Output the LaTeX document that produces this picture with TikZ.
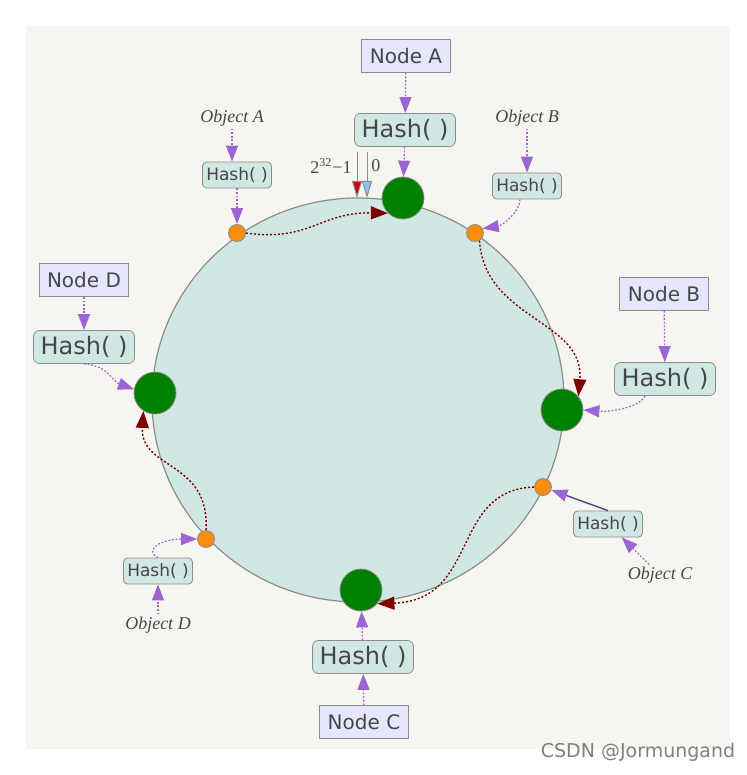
\documentclass[tikz,border=0pt]{standalone}
\usepackage{fontspec}
\usepackage{tikz}
\usetikzlibrary{arrows.meta,calc}
\newfontfamily\ringsans{DejaVu Sans}
\newfontfamily\ringserif{Liberation Serif}
\definecolor{paper}{HTML}{F6F5F0}
\definecolor{ringfill}{HTML}{D0E7E4}
\definecolor{edgegray}{HTML}{8C8C8C}
\definecolor{boxfill}{HTML}{E6E6FF}
\definecolor{inkgray}{HTML}{474747}
\definecolor{hashpurple}{HTML}{9B65D6}
\definecolor{darkpurple}{HTML}{5A3D8A}
\definecolor{walkred}{HTML}{7F0000}
\definecolor{servergreen}{HTML}{008000}
\definecolor{objorange}{HTML}{FB8C0C}
\definecolor{wrapred}{HTML}{C80A0A}
\definecolor{zeroblue}{HTML}{86C3F2}
\tikzset{
	nodebox/.style={draw=edgegray,fill=boxfill,text=inkgray,font=\ringsans\fontsize{10}{12}\selectfont,minimum width=44.5pt,minimum height=16.5pt,inner sep=0pt},
	hashbig/.style={draw=edgegray,fill=ringfill,rounded corners=3pt,text=inkgray,font=\ringsans\fontsize{12}{14}\selectfont,minimum width=50.5pt,minimum height=16.5pt,inner sep=0pt},
	hashsmall/.style={draw=edgegray,fill=ringfill,rounded corners=2pt,text=inkgray,font=\ringsans\fontsize{8.5}{10}\selectfont,minimum width=34.5pt,minimum height=13pt,inner sep=0pt},
	server/.style={circle,draw=edgegray,fill=servergreen,minimum size=21pt,inner sep=0pt},
	object/.style={circle,draw=edgegray,fill=objorange,minimum size=8.5pt,inner sep=0pt},
	objname/.style={text=inkgray,font=\ringserif\itshape\fontsize{9}{11}\selectfont,inner sep=1pt},
	ringnum/.style={text=inkgray,font=\ringserif\fontsize{9}{11}\selectfont,inner sep=1pt},
	hashto/.style={hashpurple,line width=0.6pt,dash pattern=on 0.9pt off 0.9pt,-{Triangle[length=8pt,width=6pt]}},
	hashsolid/.style={darkpurple,line width=0.7pt,-{Triangle[length=8pt,width=6pt,color=hashpurple]}},
	walk/.style={walkred,line width=0.7pt,dash pattern=on 1pt off 1pt,-{Triangle[length=8.5pt,width=6.5pt]}},
	cut/.style={edgegray,line width=0.5pt}
}
\begin{document}
\begin{tikzpicture}[x=0.5pt,y=-0.5pt]
	\useasboundingbox (0,0) rectangle (746,775);
	\fill [paper] (26,26) rectangle (730,749);
	\draw [edgegray,line width=0.6pt,fill=ringfill] (358,400) ellipse [x radius=206,y radius=202];
	\node [server] (gA) at (403,198) {};
	\node [server] (gB) at (562,410) {};
	\node [server] (gC) at (361,590) {};
	\node [server] (gD) at (155,393) {};
	\node [object] (oA) at (237,233) {};
	\node [object] (oB) at (475,233) {};
	\node [object] (oC) at (543,487) {};
	\node [object] (oD) at (206,539) {};
	\node [nodebox] (nA) at (406,56) {Node A};
	\node [hashbig] (hA) at (405,130) {Hash( )};
	\node [nodebox] (nB) at (664,294) {Node B};
	\node [hashbig] (hB) at (665,379) {Hash( )};
	\node [nodebox] (nC) at (364,722) {Node C};
	\node [hashbig] (hC) at (363,657) {Hash( )};
	\node [nodebox] (nD) at (84,280) {Node D};
	\node [hashbig] (hD) at (84,347) {Hash( )};
	\node [objname] (tA) at (232,118) {Object A};
	\node [hashsmall] (hoA) at (237,175) {Hash( )};
	\node [objname] (tB) at (527,118) {Object B};
	\node [hashsmall] (hoB) at (527,186) {Hash( )};
	\node [objname] (tC) at (660,575) {Object C};
	\node [hashsmall] (hoC) at (608,524) {Hash( )};
	\node [objname] (tD) at (158,625) {Object D};
	\node [hashsmall] (hoD) at (158,571) {Hash( )};
	\coordinate (maxtop) at (357,152);
	\coordinate (maxend) at (357,198);
	\coordinate (zerotop) at (367,152);
	\coordinate (zeroend) at (367,198);
	\node [ringnum,anchor=east] (lmax) at (354,166) {2\textsuperscript{32}−1};
	\node [ringnum,anchor=west] (lzero) at (369,166) {0};
	\draw [cut,-{Triangle[length=8.5pt,width=5pt,fill=wrapred]}] (maxtop) -- (maxend);
	\draw [cut,-{Triangle[length=8.5pt,width=5pt,fill=zeroblue]}] (zerotop) -- (zeroend);
	\draw [hashto] (nA) -- (hA);
	\draw [hashto] (hA) -- (gA);
	\draw [hashto] (nB) -- (hB);
	\draw [hashto] ($(hB.south)+(-20,0)$) .. controls +(-5,12) and +(25,2) .. (gB.east);
	\draw [hashto] (nC) -- (hC);
	\draw [hashto] (hC) -- (gC);
	\draw [hashto] (nD) -- (hD);
	\draw [hashto] (hD.south) .. controls +(25,2) and +(-22,-8) .. (gD.170);
	\draw [hashto] (tA) -- (tA |- hoA.north);
	\draw [hashto] (hoA) -- (oA);
	\draw [hashto] (tB) -- (hoB);
	\draw [hashto] ($(hoB.south)+(-7,0)$) .. controls +(0,12) and +(20,-3) .. (oB.30);
	\draw [hashto] (tC) -- (hoC);
	\draw [hashsolid] (hoC.north) -- (oC);
	\draw [hashto] (tD) -- (hoD);
	\draw [hashto] (hoD.north) .. controls +(-15,-8) and +(-35,0) .. (oD.west);
	\draw [walk] (oA.east) .. controls (310,242) and (320,212) .. (gA.225);
	\draw [walk] (oB.-60) .. controls (485,320) and (585,320) .. (gB.40);
	\draw [walk] (oC.west) .. controls (450,490) and (480,600) .. (gC.-40);
	\draw [walk] (oD.north) .. controls (210,460) and (140,470) .. (gD.237);
	\node [text=gray,font=\ringsans\fontsize{9.5}{11}\selectfont] (wm) at (638,752) {CSDN @Jormungand};
\end{tikzpicture}
\end{document}
